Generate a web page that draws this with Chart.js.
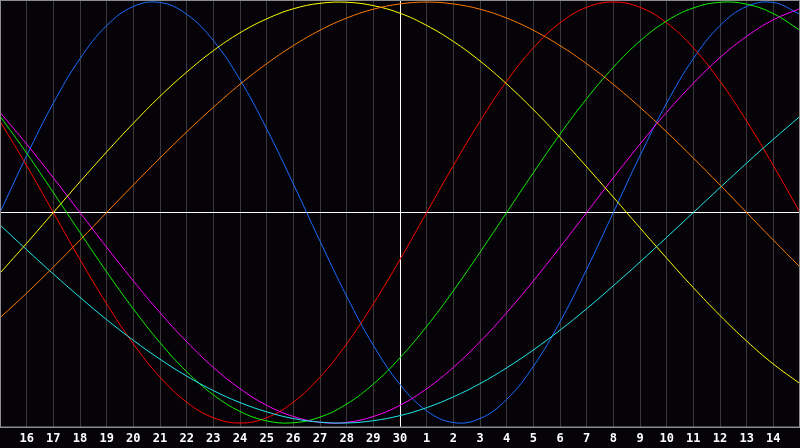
<!DOCTYPE html>
<html>
<head>
<meta charset="utf-8">
<script src="https://cdn.jsdelivr.net/npm/chart.js@4/dist/chart.umd.min.js"></script>
<style>
    html, body { margin: 0; padding: 0; background: #050308; }
    #wrap { width: 800px; height: 448px; }
</style>
</head>
<body>
<div id="wrap"><canvas id="bio"></canvas></div>
<script>
const dayLabels = ['15', '16', '17', '18', '19', '20', '21', '22', '23', '24', '25', '26', '27', '28', '29', '30',
    '1', '2', '3', '4', '5', '6', '7', '8', '9', '10', '11', '12', '13', '14', '15'];

// cycle values, one per day column
const physical = [0, 0.270, 0.520, 0.731, 0.888, 0.979, 0.998, 0.942, 0.817, 0.631, 0.398, 0.136, -0.136, -0.398, -0.631, -0.817,
    -0.942, -0.998, -0.979, -0.888, -0.731, -0.520, -0.270, 0, 0.270, 0.520, 0.731, 0.888, 0.979, 0.998, 0.942];
const emotional = [0.434, 0.223, 0, -0.223, -0.434, -0.624, -0.782, -0.901, -0.975, -1, -0.975, -0.901, -0.782, -0.624, -0.434, -0.223,
    0, 0.223, 0.434, 0.624, 0.782, 0.901, 0.975, 1, 0.975, 0.901, 0.782, 0.624, 0.434, 0.223, 0];
const intellectual = [0.458, 0.282, 0.095, -0.095, -0.282, -0.458, -0.618, -0.756, -0.866, -0.945, -0.990, -0.999, -0.972, -0.910, -0.815, -0.690,
    -0.541, -0.372, -0.189, 0, 0.189, 0.372, 0.541, 0.690, 0.815, 0.910, 0.972, 0.999, 0.990, 0.945, 0.866];
const intuitive = [0.476, 0.325, 0.165, 0, -0.165, -0.325, -0.476, -0.614, -0.736, -0.837, -0.916, -0.969, -0.997, -0.997, -0.969, -0.916,
    -0.837, -0.736, -0.614, -0.476, -0.325, -0.165, 0, 0.165, 0.325, 0.476, 0.614, 0.736, 0.837, 0.916, 0.969];
const aesthetic = [-0.288, -0.146, 0, 0.146, 0.288, 0.424, 0.552, 0.667, 0.769, 0.854, 0.920, 0.968, 0.994, 0.999, 0.983, 0.947,
    0.889, 0.813, 0.720, 0.611, 0.489, 0.357, 0.217, 0.073, -0.073, -0.217, -0.357, -0.489, -0.611, -0.720, -0.813];
const awareness = [-0.5, -0.383, -0.259, -0.131, 0, 0.131, 0.259, 0.383, 0.5, 0.609, 0.707, 0.793, 0.866, 0.924, 0.966, 0.991,
    1, 0.991, 0.966, 0.924, 0.866, 0.793, 0.707, 0.609, 0.5, 0.383, 0.259, 0.131, 0, -0.131, -0.259];
const spiritual = [-0.059, -0.177, -0.292, -0.403, -0.509, -0.607, -0.697, -0.777, -0.846, -0.903, -0.947, -0.979, -0.996, -1, -0.989, -0.965,
    -0.927, -0.876, -0.813, -0.738, -0.653, -0.559, -0.457, -0.348, -0.235, -0.118, 0, 0.118, 0.235, 0.348, 0.457];

const todayIndex = 15;

const frame = {
    id: 'frame',
    beforeDraw(chart) {
        const c = chart.ctx;
        c.save();
        c.fillStyle = '#050308';
        c.fillRect(0, 0, chart.width, chart.height);
        c.restore();
    },
    afterDraw(chart) {
        const c = chart.ctx;
        const a = chart.chartArea;
        c.save();
        c.strokeStyle = '#8c8c8c';
        c.lineWidth = 1;
        c.strokeRect(0.5, 0.5, chart.width - 1, Math.round(a.bottom) - 0.5);
        c.restore();
    }
};

function line(label, data, color) {
    return {
        label: label,
        data: data,
        borderColor: color,
        borderWidth: 1,
        pointRadius: 0,
        tension: 0.4,
        fill: false
    };
}

new Chart(document.getElementById('bio'), {
    type: 'line',
    data: {
        labels: dayLabels,
        datasets: [
            line('Awareness', awareness, '#ff7a00'),
            line('Aesthetic', aesthetic, '#ffff00'),
            line('Spiritual', spiritual, '#22e8e8'),
            line('Intuitive', intuitive, '#ff00ff'),
            line('Intellectual', intellectual, '#10f000'),
            line('Emotional', emotional, '#ff0000'),
            line('Physical', physical, '#1a6cff')
        ]
    },
    plugins: [frame],
    options: {
        responsive: true,
        maintainAspectRatio: false,
        animation: false,
        layout: { padding: { top: 1, left: 0, right: 0, bottom: -2 } },
        plugins: {
            legend: { display: false },
            tooltip: { enabled: false }
        },
        scales: {
            x: {
                afterFit: s => { s.paddingLeft = 0; s.paddingRight = 0; },
                grid: {
                    color: ctx => ctx.index === todayIndex ? '#ffffff' : (ctx.index === 0 || ctx.index === 30 ? 'rgba(0,0,0,0)' : '#3a3a3a'),
                    lineWidth: 1,
                    drawTicks: false
                },
                border: { display: true, color: '#8c8c8c' },
                ticks: {
                    autoSkip: false,
                    maxRotation: 0,
                    padding: 6,
                    color: '#ffffff',
                    font: { family: 'DejaVu Sans Mono', size: 12, weight: 'bold', lineHeight: 0.9 },
                    callback: (v, i) => (i === 0 || i === 30) ? '' : dayLabels[i]
                }
            },
            y: {
                display: true,
                afterFit: s => { s.width = 0; },
                min: -1.02,
                max: 1.005,
                afterBuildTicks: scale => { scale.ticks = [{ value: 0 }]; },
                grid: { color: '#ffffff', lineWidth: 1, drawTicks: false },
                border: { display: false },
                ticks: { display: false }
            }
        }
    }
});
</script>
</body>
</html>
